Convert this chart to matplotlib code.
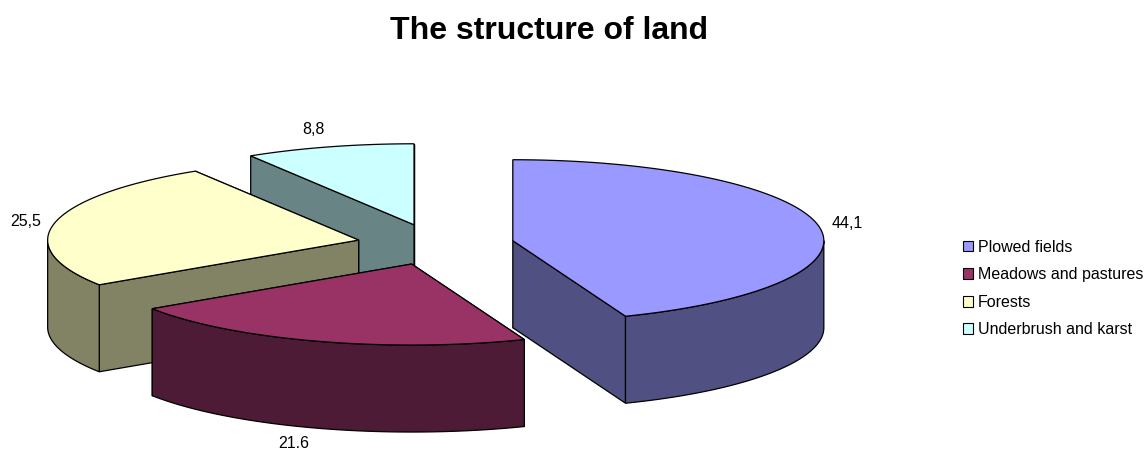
import numpy as np
import matplotlib
matplotlib.use("Agg")
from matplotlib import pyplot as plt
from matplotlib.patches import Polygon, Patch

plt.rcParams['font.family'] = ['Liberation Sans', 'DejaVu Sans']

title = 'The structure of land'
categories = ['Plowed fields', 'Meadows and pastures', 'Forests', 'Underbrush and karst']
values = [44.1, 21.6, 25.5, 8.8]
value_labels = ['44,1', '21.6', '25,5', '8,8']
top_colors = ['#9999FF', '#993366', '#FFFFCC', '#CCFFFF']
side_colors = ['#505082', '#4D1B35', '#828264', '#688484']

# pie geometry, in pixels of the figure
cx, cy = 435.5, 244.5
rx, ry = 311, 81
depth = 87
explode = 0.253
label_pos = [(847, 223), (293.5, 443.5), (25.5, 221), (313, 130)]


def project(theta, r=1.0):
    # theta runs clockwise from 12 o'clock
    return np.column_stack([r * rx * np.sin(theta), -r * ry * np.cos(theta)])


def draw_slice(ax, start, end, top, side):
    mid = (start + end) / 2
    apex = np.array([cx, cy]) + project(np.array([mid]), explode)
    arc = apex + project(np.linspace(start, end, 120))
    down = np.array([0, depth])

    # cut faces, the one further back first so the front one covers it
    for edge in sorted((arc[0], arc[-1]), key=lambda p: p[1]):
        face = np.array([apex[0], edge, edge + down, apex[0] + down])
        ax.add_patch(Polygon(face, fc=side, ec='black', lw=0.9))

    # outer rim, only the part facing the viewer
    lo, hi = max(start, np.pi / 2), min(end, 3 * np.pi / 2)
    if hi > lo:
        rim = apex + project(np.linspace(lo, hi, 120))
        ax.add_patch(Polygon(np.vstack([rim, rim[::-1] + down]), fc=side, ec='black', lw=0.9))

    ax.add_patch(Polygon(np.vstack([apex, arc]), fc=top, ec='black', lw=0.9))


fig = plt.figure(figsize=(11.45, 4.5), dpi=100)
ax = fig.add_axes([0, 0, 1, 1])
ax.set_xlim(0, 1145)
ax.set_ylim(450, 0)
ax.axis('off')

shares = np.array(values) / np.sum(values) * 2 * np.pi
stops = np.concatenate([[0], np.cumsum(shares)])

# painter's order, back to front
for i in [3, 2, 0, 1]:
    draw_slice(ax, stops[i], stops[i + 1], top_colors[i], side_colors[i])

for text, (x, y) in zip(value_labels, label_pos):
    ax.text(x, y, text, ha='center', va='center', fontsize=11.5, color='black')

ax.text(548.5, 31, title, ha='center', va='center', fontsize=23, fontweight='bold')

handles = [Patch(fc=c, ec='black', lw=0.8) for c in top_colors]
ax.legend(handles, categories, loc='center left', bbox_to_anchor=(963 / 1145, 1 - 288.5 / 450),
          frameon=False, fontsize=11.5, handlelength=0.65, handleheight=0.65,
          handletextpad=0.28, labelspacing=0.79, borderpad=0, borderaxespad=0)

fig.savefig('out.png', dpi=100)
